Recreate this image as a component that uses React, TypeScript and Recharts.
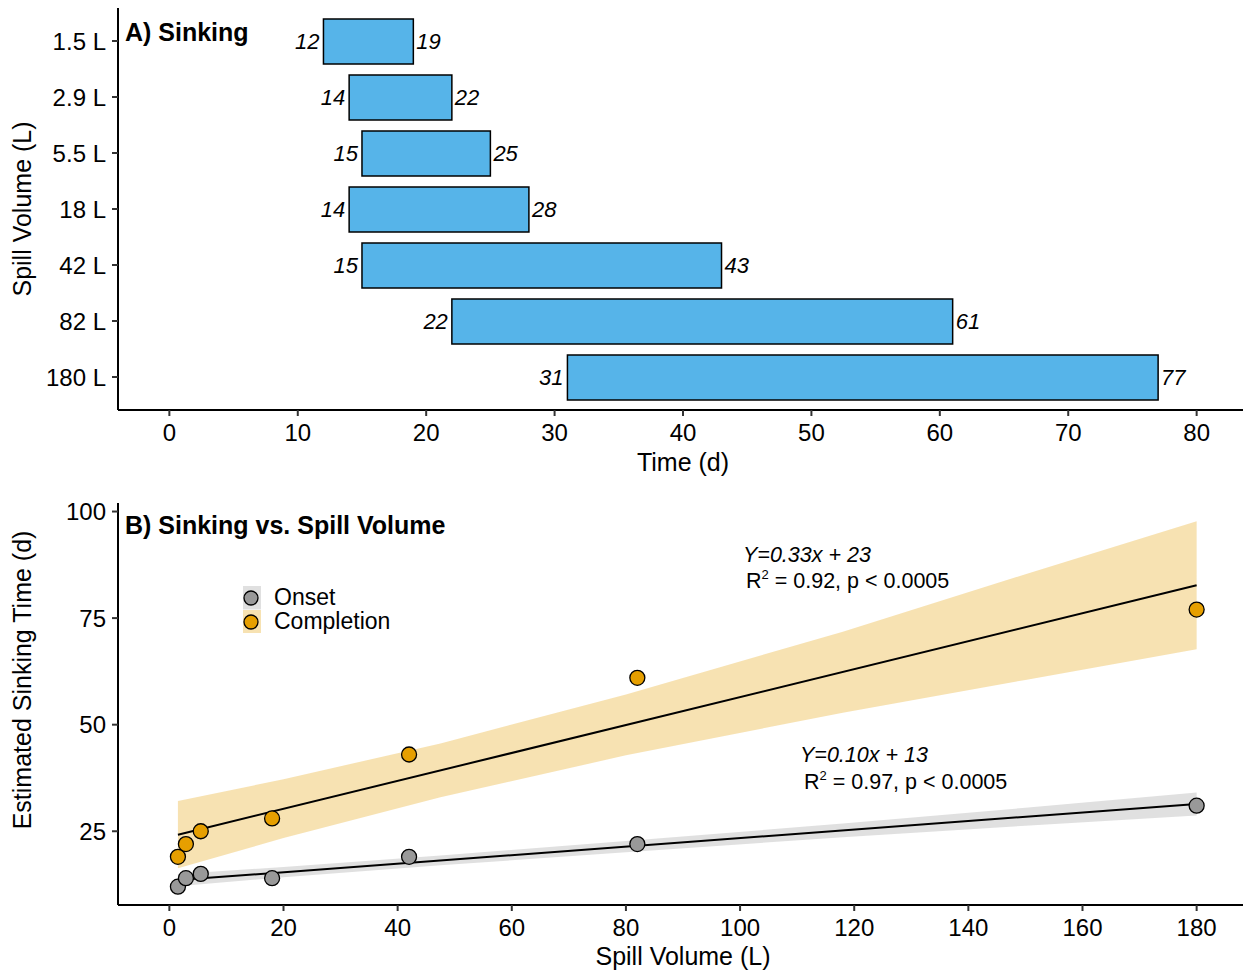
import React from 'react';
import {
  BarChart,
  Bar,
  XAxis,
  YAxis,
  LabelList,
  ComposedChart,
  Area,
  Line,
  Scatter,
  Legend
} from 'recharts';

const FONT = '"Liberation Sans", Arial, Helvetica, sans-serif';

// Panel A: sinking window per spill
const volumeLabels = ['1.5 L', '2.9 L', '5.5 L', '18 L', '42 L', '82 L', '180 L'];
const sinkStart = [12, 14, 15, 14, 15, 22, 31];
const sinkEnd = [19, 22, 25, 28, 43, 61, 77];
const timeTicks = [0, 10, 20, 30, 40, 50, 60, 70, 80];

// Panel B: sinking time vs spill volume
const spillVolumes = [1.5, 2.9, 5.5, 18, 42, 82, 180];
const onsetDays = [12, 14, 15, 14, 19, 22, 31];
const completionDays = [19, 22, 25, 28, 43, 61, 77];

// fitted lines + confidence bands
const bandX = [1.5, 20, 47.5, 80, 118, 150, 180];
const onsetLow = [12.1, 14.2, 17.0, 20.1, 23.6, 26.3, 28.7];
const onsetHigh = [15.0, 16.6, 19.3, 22.7, 26.8, 30.5, 34.1];
const completionLow = [16.3, 23.4, 33.0, 42.8, 52.8, 60.5, 67.7];
const completionHigh = [32.1, 37.2, 45.6, 57.1, 71.8, 85.3, 97.7];
const fitX = [1.5, 180];
const onsetFit = [13.55, 31.4];
const completionFit = [24.2, 82.7];

const volumeTicks = [0, 20, 40, 60, 80, 100, 120, 140, 160, 180];
const dayTicks = [25, 50, 75, 100];
const legendNames = ['Onset', 'Completion'];

const ONSET = '#999999';
const COMPLETION = '#E69F00';

const barData = volumeLabels.map((vol, i) => ({
  vol,
  span: [sinkStart[i], sinkEnd[i]],
  start: sinkStart[i],
  end: sinkEnd[i]
}));

const bandData = bandX.map((x, i) => {
  const j = fitX.indexOf(x);
  return {
    x,
    oBand: [onsetLow[i], onsetHigh[i]],
    cBand: [completionLow[i], completionHigh[i]],
    oFit: j >= 0 ? onsetFit[j] : null,
    cFit: j >= 0 ? completionFit[j] : null
  };
});

const onsetPts = spillVolumes.map((x, i) => ({ x, t: onsetDays[i] }));
const completionPts = spillVolumes.map((x, i) => ({ x, t: completionDays[i] }));

const tickStyle = { fill: '#000', fontSize: 24, fontFamily: FONT };
const axisLine = { stroke: '#000', strokeWidth: 2 };
const tickLine = { stroke: '#333', strokeWidth: 2 };

const StartLabel = (p: any) => {
  const left = Math.min(p.x, p.x + p.width);
  return (
    <text x={left - 4} y={p.y + p.height / 2} dy="0.36em" textAnchor="end"
      fontStyle="italic" fontSize={22} fontFamily={FONT} fill="#000">
      {p.value}
    </text>
  );
};

const EndLabel = (p: any) => {
  const right = Math.max(p.x, p.x + p.width);
  return (
    <text x={right + 3} y={p.y + p.height / 2} dy="0.36em" textAnchor="start"
      fontStyle="italic" fontSize={22} fontFamily={FONT} fill="#000">
      {p.value}
    </text>
  );
};

const XTitle = ({ viewBox, text, baseline }: any) => {
  if (!viewBox) return null;
  return (
    <text x={viewBox.x + viewBox.width / 2} y={viewBox.y + baseline} textAnchor="middle"
      fontSize={25} fontFamily={FONT} fill="#000">
      {text}
    </text>
  );
};

const YTitle = ({ viewBox, text, shift = 0 }: any) => {
  if (!viewBox) return null;
  const cy = viewBox.y + viewBox.height / 2 + shift;
  return (
    <text transform={`translate(31, ${cy}) rotate(-90)`} textAnchor="middle"
      fontSize={25} fontFamily={FONT} fill="#000">
      {text}
    </text>
  );
};

const dot = (fill: string) => (p: any) => (
  <circle cx={p.cx} cy={p.cy} r={7.5} fill={fill} stroke="#000" strokeWidth={1.3} />
);

const LegendBox = () => (
  <div style={{ display: 'flex', flexDirection: 'column', fontFamily: FONT }}>
    {legendNames.map((name, i) => {
      const c = i === 0 ? ONSET : COMPLETION;
      return (
        <div key={name} style={{ display: 'flex', alignItems: 'center', height: 23.5 }}>
          <svg width={18} height={23.5} style={{ display: 'block' }}>
            <rect x={0} y={0} width={18} height={23.5} fill={c} fillOpacity={0.3} />
            <circle cx={8} cy={12} r={7} fill={c} stroke="#000" strokeWidth={1.3} />
          </svg>
          <span style={{ marginLeft: 13, fontSize: 23, color: '#000', lineHeight: '23px' }}>{name}</span>
        </div>
      );
    })}
  </div>
);

const R2 = ({ x, y, r2 }: { x: number; y: number; r2: string }) => (
  <text x={x} y={y} fontSize={21.5} fontFamily={FONT} fill="#000">
    R<tspan dy={-9} fontSize={13}>2</tspan>
    <tspan dy={9}>{` = ${r2}, p < 0.0005`}</tspan>
  </text>
);

const App = () => {
  return (
    <div style={{ position: 'absolute', left: 0, top: 0, width: 1243, height: 974, overflow: 'hidden', background: '#fff' }}>
      {/* A) bars */}
      <div style={{ position: 'absolute', left: 0, top: 0 }}>
        <BarChart
          width={1250}
          height={480}
          data={barData}
          layout="vertical"
          margin={{ top: 8, right: 2, bottom: 0, left: 0 }}
        >
          <XAxis
            type="number"
            domain={[-4, 84]}
            ticks={timeTicks}
            allowDataOverflow
            height={70}
            tickSize={6}
            tickMargin={8}
            axisLine={axisLine}
            tickLine={tickLine}
            tick={tickStyle}
            label={<XTitle text="Time (d)" baseline={61} />}
          />
          <XAxis
            xAxisId="top"
            orientation="top"
            type="number"
            domain={[-4, 84]}
            allowDataOverflow
            height={0}
            tick={false}
            tickLine={false}
            axisLine={axisLine}
          />
          <YAxis
            type="category"
            dataKey="vol"
            width={118}
            padding={{ top: 5, bottom: 5 }}
            interval={0}
            tickSize={6}
            tickMargin={6}
            axisLine={axisLine}
            tickLine={tickLine}
            tick={tickStyle}
            label={<YTitle text="Spill Volume (L)" />}
          />
          <Bar dataKey="span" fill="#56B4E9" stroke="#000" strokeWidth={1.5} barSize={45} isAnimationActive={false}>
            <LabelList dataKey="start" content={StartLabel} />
            <LabelList dataKey="end" content={EndLabel} />
          </Bar>
        </BarChart>
      </div>

      {/* B) scatter + fits */}
      <div style={{ position: 'absolute', left: 0, top: 480 }}>
        <ComposedChart
          width={1250}
          height={494}
          data={bandData}
          margin={{ top: 23, right: 2, bottom: 0, left: 0 }}
        >
          <XAxis
            dataKey="x"
            type="number"
            domain={[-9, 189]}
            ticks={volumeTicks}
            allowDataOverflow
            height={69}
            tickSize={6}
            tickMargin={8}
            axisLine={axisLine}
            tickLine={tickLine}
            tick={tickStyle}
            label={<XTitle text="Spill Volume (L)" baseline={60} />}
          />
          <XAxis
            xAxisId="top"
            orientation="top"
            type="number"
            domain={[-9, 189]}
            allowDataOverflow
            height={0}
            tick={false}
            tickLine={false}
            axisLine={axisLine}
          />
          <YAxis
            type="number"
            domain={[7.7, 102]}
            ticks={dayTicks}
            allowDataOverflow
            width={118}
            tickSize={6}
            tickMargin={6}
            axisLine={axisLine}
            tickLine={tickLine}
            tick={tickStyle}
            label={<YTitle text="Estimated Sinking Time (d)" shift={-24} />}
          />
          <Legend
            layout="vertical"
            align="center"
            verticalAlign="middle"
            content={<LegendBox />}
            wrapperStyle={{ left: 243, top: 106, width: 'auto', height: 'auto' }}
          />
          <Area dataKey="oBand" type="linear" stroke="none" fill={ONSET} fillOpacity={0.3} isAnimationActive={false} />
          <Area dataKey="cBand" type="linear" stroke="none" fill={COMPLETION} fillOpacity={0.3} isAnimationActive={false} />
          <Line dataKey="oFit" type="linear" stroke="#000" strokeWidth={2} dot={false} connectNulls isAnimationActive={false} />
          <Line dataKey="cFit" type="linear" stroke="#000" strokeWidth={2} dot={false} connectNulls isAnimationActive={false} />
          <Scatter data={onsetPts} dataKey="t" shape={dot(ONSET)} isAnimationActive={false} />
          <Scatter data={completionPts} dataKey="t" shape={dot(COMPLETION)} isAnimationActive={false} />
        </ComposedChart>
      </div>

      {/* panel titles and fit annotations */}
      <svg width={1243} height={974} style={{ position: 'absolute', left: 0, top: 0, pointerEvents: 'none' }}>
        <text x={125} y={41} fontSize={25} fontWeight="bold" fontFamily={FONT} fill="#000">A) Sinking</text>
        <text x={125} y={534} fontSize={25} fontWeight="bold" fontFamily={FONT} fill="#000">B) Sinking vs. Spill Volume</text>
        <text x={743} y={562} fontSize={21.5} fontStyle="italic" fontFamily={FONT} fill="#000">Y=0.33x + 23</text>
        <R2 x={746} y={588} r2="0.92" />
        <text x={800} y={762} fontSize={21.5} fontStyle="italic" fontFamily={FONT} fill="#000">Y=0.10x + 13</text>
        <R2 x={804} y={789} r2="0.97" />
      </svg>
    </div>
  );
};

export default App;
